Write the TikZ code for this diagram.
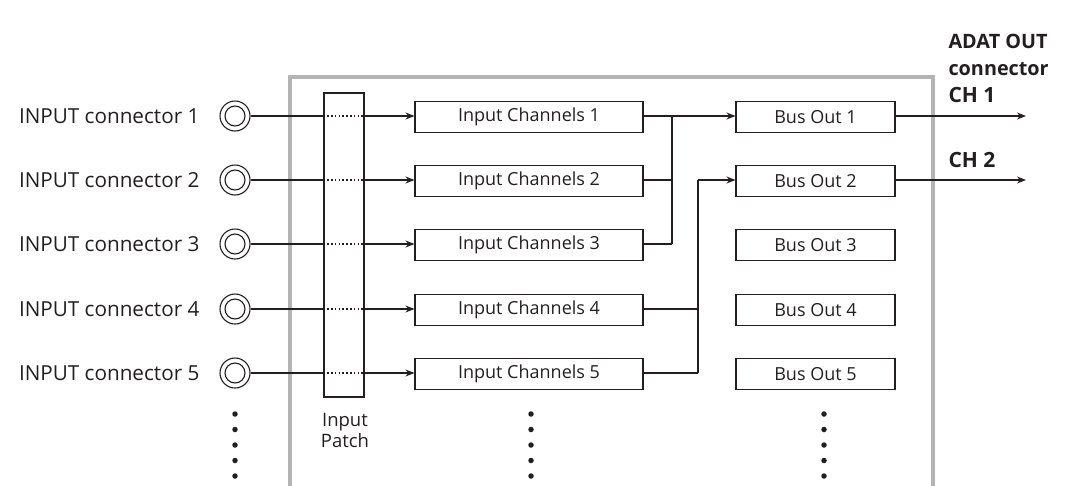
\documentclass[tikz,border=0pt]{standalone}
\usepackage{fontspec}
\setmainfont{Open Sans}
\usetikzlibrary{arrows.meta}
\definecolor{ink}{HTML}{231F20}
\definecolor{framegray}{HTML}{B4B4B4}
\begin{document}
\begin{tikzpicture}[x=1pt,y=-1pt,
  line width=1.1pt, draw=ink, text=ink,
  arr/.style={-{Stealth[length=9pt,width=7pt]}},
  chbox/.style={draw=ink, line width=1.1pt, minimum width=228pt, minimum height=31pt, inner sep=0pt, font=\fontsize{18}{20}\selectfont},
  busbox/.style={draw=ink, line width=1.1pt, minimum width=159pt, minimum height=31pt, inner sep=0pt, font=\fontsize{18}{20}\selectfont},
  jackstyle/.style={circle, draw=ink, line width=1.1pt, minimum size=30pt, inner sep=0pt},
  inlabel/.style={anchor=east, inner sep=0pt, font=\fontsize{20.7}{24}\selectfont},
  chlabel/.style={anchor=west, inner sep=0pt, font=\bfseries\fontsize{21}{24}\selectfont},
  dotstyle/.style={fill=ink, draw=none, circle, minimum size=5.5pt, inner sep=0pt},
  patchdots/.style={dash pattern=on 1.6pt off 2.2pt},
]
\useasboundingbox (0,0) rectangle (1066,485);
% frame
\draw[framegray, line width=4pt] (290,490) -- (290,77) -- (933,77) -- (933,490);
% input patch
\node[draw=ink, line width=1.1pt, minimum width=40pt, minimum height=304pt, inner sep=0pt] (patch) at (344,245) {};
\node[align=center, font=\fontsize{18.5}{21}\selectfont, inner sep=0pt] (patchlabel) at (345,430) {Input\\Patch};
% rows
\foreach \i/\y in {1/116,2/180,3/244,4/309,5/373}{
  \node[jackstyle] (jack\i) at (235,\y) {};
  \draw (jack\i) circle (10pt);
  \node[inlabel] (lab\i) at (200,\y) {INPUT connector \i};
  \node[chbox] (ic\i) at (529,\y+1) {Input Channels \i};
  \node[busbox] (bus\i) at (815.5,\y+1) {Bus Out \i};
  \coordinate (pl\i) at (patch.west |- jack\i.east);
  \coordinate (pr\i) at (patch.east |- jack\i.east);
  \draw (jack\i.east) -- (pl\i);
  \draw[patchdots] (pl\i) -- (pr\i);
  \draw[arr] (pr\i) -- (pr\i -| ic\i.west);
}
% routing to bus 1
\coordinate (v1top) at (672,116);
\coordinate (v1bot) at (672,244);
\draw[arr] (ic1.east |- v1top) -- (v1top -| bus1.west);
\draw (v1top) -- (v1bot);
\draw (ic2.east |- 672,180) -- (672,180);
\draw (ic3.east |- v1bot) -- (v1bot);
% routing to bus 2
\coordinate (v2top) at (698,180);
\coordinate (v2mid) at (698,309);
\coordinate (v2bot) at (698,373);
\draw[arr] (v2top) -- (v2top -| bus2.west);
\draw (v2top) -- (v2bot);
\draw (ic4.east |- v2mid) -- (v2mid);
\draw (ic5.east |- v2bot) -- (v2bot);
% outputs
\coordinate (out1) at (1026,116);
\coordinate (out2) at (1026,180);
\draw[arr] (bus1.east |- out1) -- (out1);
\draw[arr] (bus2.east |- out2) -- (out2);
\node[chlabel] (ch1) at (948,95) {CH 1};
\node[chlabel] (ch2) at (948,160) {CH 2};
\node[anchor=north west, align=left, inner sep=0pt, font=\bfseries\fontsize{19.8}{27}\selectfont] (adat) at (948,34) {ADAT OUT\\connector};
% continuation dots
\foreach \x/\n in {235/a,531/b,824/c}{
  \foreach \k in {0,...,4}{
    \node[dotstyle] (d\n\k) at (\x,414+15.5*\k) {};
  }
}
\end{tikzpicture}
\end{document}
